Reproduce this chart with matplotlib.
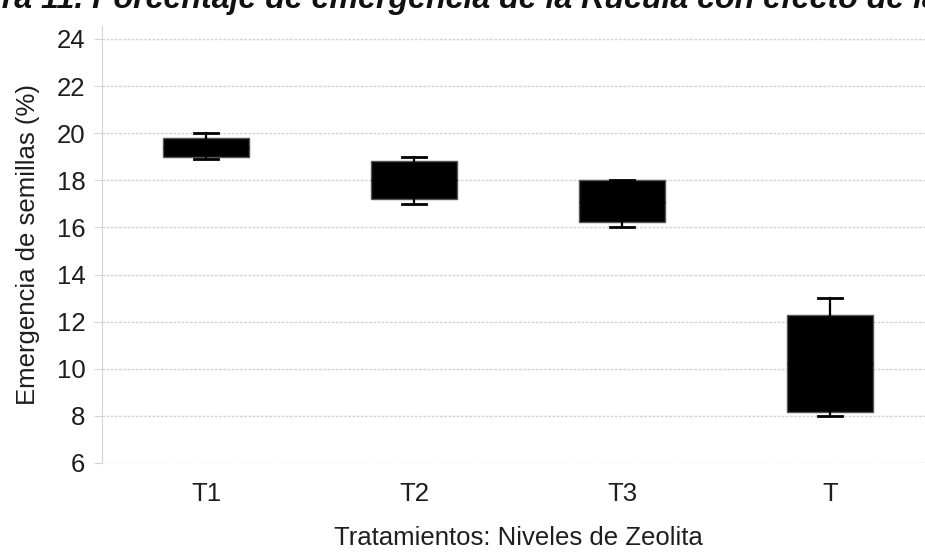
import matplotlib
matplotlib.use("Agg")
import matplotlib.pyplot as plt

plt.rcParams['font.family'] = ['Liberation Sans', 'DejaVu Sans']

# Emergencia de semillas (%) por tratamiento
tratamientos = ["T1", "T2", "T3", "T"]
minimos = [18.9, 17.0, 16.0, 8.0]
q1 = [19.0, 17.2, 16.25, 8.15]
medianas = [19.4, 18.0, 17.1, 10.2]
q3 = [19.8, 18.8, 18.0, 12.3]
maximos = [20.0, 19.0, 18.0, 13.0]

stats = []
for i, nombre in enumerate(tratamientos):
    stats.append({
        "label": nombre,
        "whislo": minimos[i],
        "q1": q1[i],
        "med": medianas[i],
        "q3": q3[i],
        "whishi": maximos[i],
        "fliers": [],
    })

fig = plt.figure(figsize=(9.25, 5.56), dpi=100)
ax = fig.add_axes([0.1103, 0.1673, 0.8995, 0.7859])

posiciones = list(range(len(tratamientos)))
ax.bxp(stats, positions=posiciones, widths=0.413, capwidths=0.115,
       patch_artist=True, showfliers=False,
       boxprops=dict(facecolor="black", edgecolor="#555555", linewidth=1),
       whiskerprops=dict(color="black", linewidth=1.6),
       capprops=dict(color="black", linewidth=2),
       medianprops=dict(color="black", linewidth=1))

ax.set_xlim(-0.5, 3.5)
ax.set_ylim(6, 24.55)
ax.set_yticks(range(6, 25, 2))
ax.set_xticks(posiciones)
ax.set_xticklabels(tratamientos)

ax.yaxis.grid(True, color="#d4d4d4", linestyle=(0, (2, 1)), linewidth=1)
ax.set_axisbelow(True)
for lado in ["top", "right", "bottom"]:
    ax.spines[lado].set_visible(False)
ax.spines["left"].set_color("#d4d4d4")

ax.tick_params(axis="y", length=6, color="#d4d4d4", labelsize=18.5,
               labelcolor="#1e1e1e", pad=6)
ax.tick_params(axis="x", length=0, labelsize=18.5, labelcolor="#1e1e1e", pad=14)

ax.set_xlabel("Tratamientos: Niveles de Zeolita", fontsize=18.5,
              color="#1e1e1e", labelpad=14)
ax.set_ylabel("Emergencia de semillas (%)", fontsize=18.5,
              color="#1e1e1e", labelpad=12)

# título de la figura, recortado por el borde superior
fig.text(-66 / 925, 1 - 8 / 556,
         "Figura 11. Porcentaje de emergencia de la Rúcula con efecto de la Zeolita",
         fontsize=23.1, fontweight="bold", fontstyle="italic", color="#111111",
         ha="left", va="baseline")

fig.savefig("out.png", dpi=100)
